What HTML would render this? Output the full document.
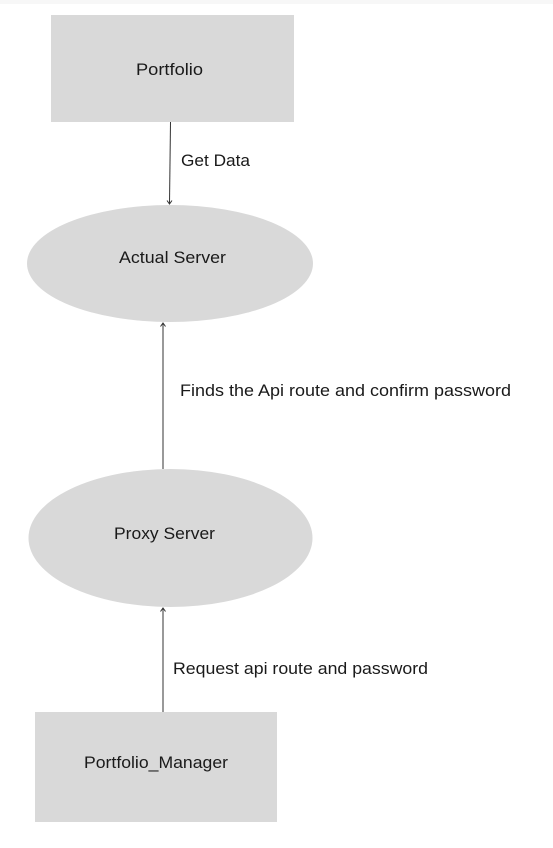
<!DOCTYPE html>
<html><head><meta charset="utf-8"><style>
html,body{margin:0;padding:0;background:#fff;width:553px;height:848px;overflow:hidden}
svg text{font-family:"Liberation Sans",sans-serif;font-size:16.5px;fill:#1a1a1a}
</style></head><body>
<svg width="553" height="848" viewBox="0 0 553 848" xmlns="http://www.w3.org/2000/svg">
<rect x="0" y="0" width="553" height="4" fill="#f7f7f7"/>
<rect x="51" y="15" width="243" height="107" fill="#d9d9d9"/>
<text x="136" y="75" textLength="67" lengthAdjust="spacingAndGlyphs">Portfolio</text>
<ellipse cx="170" cy="263.5" rx="143" ry="58.5" fill="#d9d9d9"/>
<text x="119" y="263" textLength="107" lengthAdjust="spacingAndGlyphs">Actual Server</text>
<ellipse cx="170.5" cy="538" rx="142" ry="69" fill="#d9d9d9"/>
<text x="114" y="539" textLength="101" lengthAdjust="spacingAndGlyphs">Proxy Server</text>
<rect x="35" y="712" width="242" height="110" fill="#d9d9d9"/>
<text x="84" y="768" textLength="144" lengthAdjust="spacingAndGlyphs">Portfolio_Manager</text>
<g stroke="#333" stroke-width="1" fill="none">
<line x1="170.5" y1="122" x2="169.5" y2="204"/>
<polyline points="167,200.5 169.5,204 172,200.5"/>
<line x1="163" y1="469" x2="163" y2="323"/>
<polyline points="160.5,326.5 163,323 165.5,326.5"/>
<line x1="163" y1="712" x2="163" y2="608"/>
<polyline points="160.5,611.5 163,608 165.5,611.5"/>
</g>
<text x="181" y="166" textLength="69" lengthAdjust="spacingAndGlyphs">Get Data</text>
<text x="180" y="396" textLength="331" lengthAdjust="spacingAndGlyphs">Finds the Api route and confirm password</text>
<text x="173" y="674" textLength="255" lengthAdjust="spacingAndGlyphs">Request api route and password</text>
</svg>
</body></html>
